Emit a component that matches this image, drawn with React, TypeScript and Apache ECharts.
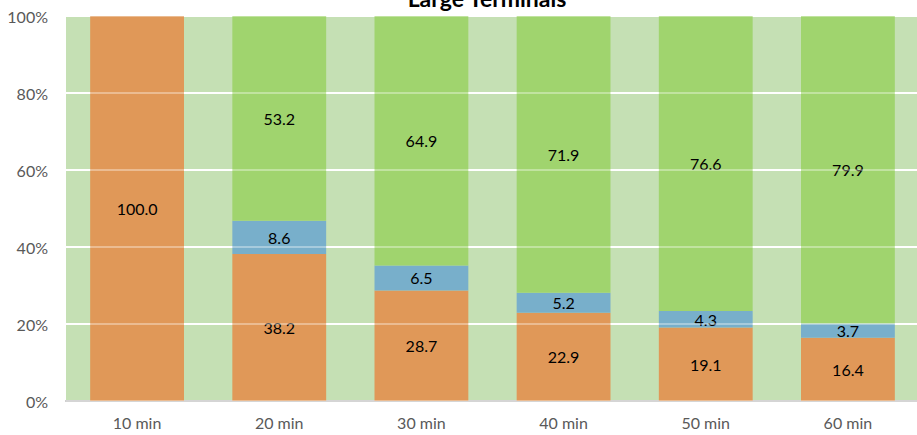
import React, { useEffect, useRef } from "react";
import * as echarts from "echarts";

const categories = ["10 min", "20 min", "30 min", "40 min", "50 min", "60 min"];
const orangeValues = [100.0, 38.2, 28.7, 22.9, 19.1, 16.4];
const blueValues = [0, 8.6, 6.5, 5.2, 4.3, 3.7];
const greenValues = [0, 53.2, 64.9, 71.9, 76.6, 79.9];
const yTicks = [0, 20, 40, 60, 80, 100];

const FONT = "Lato, 'Open Sans', sans-serif";

export default function App() {
  const ref = useRef<HTMLDivElement>(null);
  useEffect(() => {
    if (!ref.current) return;
    const chart = echarts.init(ref.current, undefined, { renderer: "svg" });
    const label = {
      show: true,
      position: "inside",
      color: "#000",
      fontSize: 16,
      fontFamily: FONT,
      formatter: (p: any) => (p.value > 0 ? Number(p.value).toFixed(1) : ""),
    };
    const mk = (name: string, data: number[], color: string) => ({
      name,
      type: "bar",
      stack: "s",
      data,
      barCategoryGap: "34%",
      itemStyle: { color },
      label,
      z: 2,
    });
    chart.setOption({
      animation: false,
      textStyle: { fontFamily: FONT },
      graphic: [
        {
          type: "text",
          x: 487,
          y: 9,
          style: {
            text: "Large Terminals",
            font: `bold 23px ${FONT}`,
            fill: "#000",
            align: "center",
            verticalAlign: "bottom",
          },
        },
      ],
      grid: {
        left: 66,
        right: -2,
        top: 16,
        bottom: 34,
        outerBoundsMode: "none",
        containLabel: false,
        show: true,
        backgroundColor: "#C5E0B4",
        borderWidth: 0,
      },
      xAxis: {
        type: "category",
        data: categories,
        axisTick: { show: false },
        axisLine: { lineStyle: { color: "#BFBFBF", width: 2 } },
        axisLabel: { color: "#595959", fontSize: 16, fontFamily: FONT, margin: 13 },
      },
      yAxis: [
        {
          type: "value",
          min: 0,
          max: yTicks[yTicks.length - 1],
          interval: 20,
          axisLabel: {
            color: "#595959",
            fontSize: 16,
            fontFamily: FONT,
            margin: 18,
            formatter: (v: number) => `${v}%`,
          },
          splitLine: { lineStyle: { color: "#FFFFFF", width: 2 } },
          axisLine: { show: false },
          axisTick: { show: false },
        },
        {
          type: "value",
          min: 0,
          max: 100,
          interval: 20,
          position: "left",
          axisLabel: { show: false },
          splitLine: { lineStyle: { color: "rgba(255,255,255,0.35)", width: 2 } },
          axisLine: { show: false },
          axisTick: { show: false },
          z: 5,
        },
      ],
      series: [
        mk("Orange", orangeValues, "#E09858"),
        mk("Blue", blueValues, "#78AFCB"),
        mk("Green", greenValues, "#A0D46E"),
      ],
    });
    return () => chart.dispose();
  }, []);
  return (
    <div
      ref={ref}
      style={{ position: "absolute", left: 0, top: 0, width: 917, height: 435 }}
    />
  );
}
